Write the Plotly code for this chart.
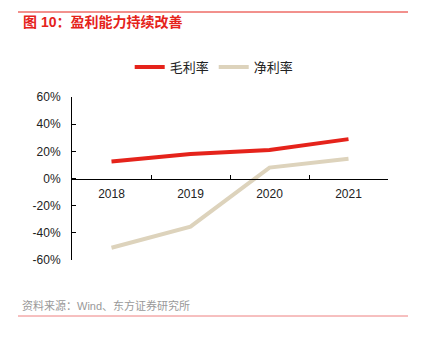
import plotly.graph_objects as go

years = ["2018", "2019", "2020", "2021"]
gross_margin = [12.5, 18.0, 21.0, 29.0]
net_margin = [-51.0, -35.5, 8.0, 14.5]
y_ticks = [-60, -40, -20, 0, 20, 40, 60]
y_tick_text = ["-60%", "-40%", "-20%", "0%", "20%", "40%", "60%"]

W, H = 423, 340
L, R, T, B = 72, 35, 97, 80
pw, ph = W - L - R, H - T - B

def px(x):
    return (x - L) / pw

def py(y):
    return (H - B - y) / ph

font = "Liberation Sans, Arial, Noto Sans CJK SC, sans-serif"

fig = go.Figure()
fig.add_trace(go.Scatter(x=years, y=gross_margin, name="毛利率", mode="lines",
                         line=dict(color="#e5231b", width=4)))
fig.add_trace(go.Scatter(x=years, y=net_margin, name="净利率", mode="lines",
                         line=dict(color="#ddd3bc", width=4)))

fig.update_layout(
    width=W, height=H,
    margin=dict(l=L, r=R, t=T, b=B),
    paper_bgcolor="white", plot_bgcolor="white",
    font=dict(family=font, size=12, color="#222"),
    showlegend=True,
    legend=dict(orientation="h", x=0.45, xanchor="center", y=py(67), yanchor="middle",
                font=dict(size=13, color="#222"), itemwidth=30, tracegroupgap=0),
    xaxis=dict(type="category", range=[-0.5, 3.5], anchor="free", position=0.5,
               showline=True, linecolor="#000", linewidth=1,
               ticks="inside", tickson="boundaries", ticklen=4, tickcolor="#000",
               ticklabelstandoff=4,
               showgrid=False, zeroline=False, tickfont=dict(size=12, color="#222"),
               fixedrange=True),
    yaxis=dict(range=[-60, 60], tickmode="array", tickvals=y_ticks, ticktext=y_tick_text,
               showline=True, linecolor="#000", linewidth=1,
               ticks="inside", ticklen=4, tickcolor="#000",
               ticklabelstandoff=8,
               showgrid=False, zeroline=False, tickfont=dict(size=12, color="#222")),
)

fig.add_shape(type="line", xref="paper", yref="paper", x0=px(18), x1=px(408),
              y0=py(12), y1=py(12), line=dict(color="#e5231b", width=1))
fig.add_shape(type="line", xref="paper", yref="paper", x0=px(18), x1=px(408),
              y0=py(316), y1=py(316), line=dict(color="#ee8080", width=1))
fig.add_annotation(xref="paper", yref="paper", x=px(21), y=py(22), xanchor="left",
                   yanchor="middle", showarrow=False,
                   text="<b>图 10：盈利能力持续改善</b>",
                   font=dict(size=14, color="#e5231b", family=font))
fig.add_annotation(xref="paper", yref="paper", x=px(20), y=py(305), xanchor="left",
                   yanchor="middle", showarrow=False,
                   text="资料来源：Wind、东方证券研究所",
                   font=dict(size=11, color="#999", family=font))

fig.write_html("out.html")
